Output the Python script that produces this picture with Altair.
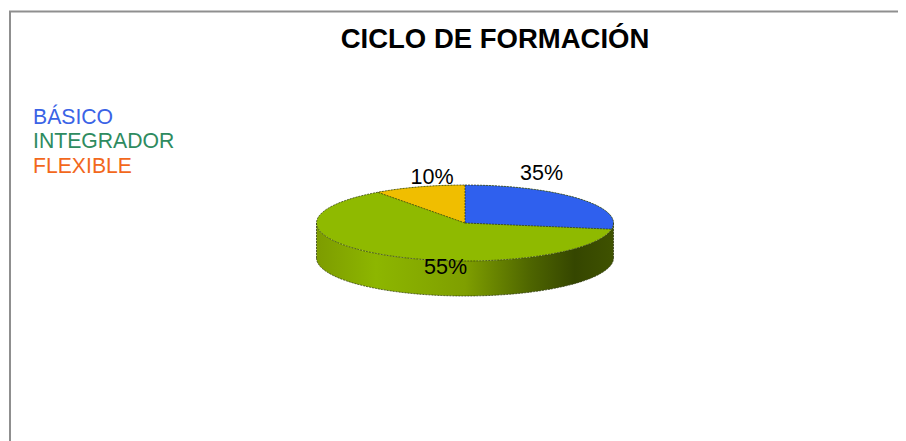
import math
import altair as alt
import pandas as pd

TITLE = "CICLO DE FORMACIÓN"
legend_names = ["BÁSICO", "INTEGRADOR", "FLEXIBLE"]
legend_colors = ["#3a63e6", "#2e8b60", "#f2681c"]
percent_labels = ["35%", "55%", "10%"]
# slice sizes as drawn in the picture (share of the turn, clockwise from 12 o'clock)
drawn_blue = 27.6
drawn_yellow = 10.0
slice_colors = {"blue": "#2f60ee", "green": "#8fba00", "yellow": "#f0be00"}

W, H = 890, 433
CX, CY, RX, RY, DEPTH = 457, 215, 148.5, 38.0, 35.0
xs = alt.Scale(domain=[-CX / RX, (W - CX) / RX], range=[0, W])
ys = alt.Scale(domain=[-(H - CY) / RY, CY / RY], range=[H, 0])
X = alt.X("x:Q", scale=xs, axis=None)
Y = alt.Y("y:Q", scale=ys, axis=None)
Y2 = alt.Y2("y2:Q")
D = DEPTH / RY


def ell(x):
    return math.sqrt(max(0.0, 1 - x * x))


def xgrid(a, b, n=180):
    """x positions between a and b, denser near the rim of the ellipse."""
    ta, tb = math.acos(a), math.acos(b)
    return [math.cos(ta + (tb - ta) * i / n) for i in range(n + 1)]


be = math.radians(drawn_blue * 3.6)
bx, by = math.sin(be), math.cos(be)
ye = math.radians(-drawn_yellow * 3.6)
yx, yy = math.sin(ye), math.cos(ye)

side = pd.DataFrame([{"x": x, "y": -ell(x), "y2": -ell(x) - D} for x in xgrid(-1, 1)])
top = pd.DataFrame([{"x": x, "y": ell(x), "y2": -ell(x)} for x in xgrid(-1, 1)])
blue_rows = []
for x in sorted(xgrid(0, 1) + [bx]):
    low = by * x / bx if x <= bx else -ell(x)
    blue_rows.append({"x": x, "y": ell(x), "y2": low})
blue = pd.DataFrame(blue_rows)
yellow = pd.DataFrame([{"x": x, "y": ell(x), "y2": yy * x / yx} for x in xgrid(yx, 0, 60)])

edges = []
def edge(name, pts):
    for i, (x, y) in enumerate(pts):
        edges.append({"g": name, "i": i, "x": x, "y": y})

edge("rim", [(math.sin(2 * math.pi * i / 360), math.cos(2 * math.pi * i / 360)) for i in range(361)])
edge("bottom", [(x, -ell(x) - D) for x in xgrid(-1, 1)])
edge("left", [(-1, 0), (-1, -D)])
edge("right", [(1, 0), (1, -D)])
edge("r1", [(0, 1), (0, 0)])
edge("r2", [(0, 0), (bx, by)])
edge("r3", [(0, 0), (yx, yy)])
edges = pd.DataFrame(edges)

frame_color = "#8f8f8f"
layers = [
    alt.Chart(pd.DataFrame({"a": [0]})).mark_rule(color=frame_color, strokeWidth=2).encode(
        x=alt.value(1), x2=alt.value(W), y=alt.value(3.5)),
    alt.Chart(pd.DataFrame({"a": [0]})).mark_rule(color=frame_color, strokeWidth=2).encode(
        x=alt.value(2), y=alt.value(3), y2=alt.value(H)),
    alt.Chart(side).mark_area(
        orient="vertical",
        color=alt.LinearGradient(
            gradient="linear", x1=0, x2=1, y1=0, y2=0,
            stops=[
                alt.GradientStop(color="#7d9c00", offset=0),
                alt.GradientStop(color="#8db600", offset=0.2),
                alt.GradientStop(color="#7f9f00", offset=0.5),
                alt.GradientStop(color="#4e6500", offset=0.72),
                alt.GradientStop(color="#354600", offset=0.87),
                alt.GradientStop(color="#3f5200", offset=1),
            ],
        ),
    ).encode(x=X, y=Y, y2=Y2),
    alt.Chart(top).mark_area(orient="vertical", color=slice_colors["green"]).encode(x=X, y=Y, y2=Y2),
    alt.Chart(blue).mark_area(orient="vertical", color=slice_colors["blue"]).encode(x=X, y=Y, y2=Y2),
    alt.Chart(yellow).mark_area(orient="vertical", color=slice_colors["yellow"]).encode(x=X, y=Y, y2=Y2),
    alt.Chart(edges).mark_line(color="#2f3a10", strokeWidth=1, strokeDash=[2, 1], opacity=0.75).encode(
        x=X, y=Y, detail="g:N", order="i:Q"),
]


def text(label, px, py, size, color="#000000", bold=False):
    return alt.Chart(pd.DataFrame({"t": [label]})).mark_text(
        font="Liberation Sans", fontSize=size, color=color,
        fontWeight="bold" if bold else "normal", align="center", baseline="middle",
    ).encode(text="t:N", x=alt.value(px), y=alt.value(py))


layers.append(text(TITLE, 487, 31.5, 27.5, bold=True))
for name, col, py in zip(legend_names, legend_colors, [110, 134, 158.5]):
    layers.append(
        alt.Chart(pd.DataFrame({"t": [name]})).mark_text(
            font="Liberation Sans", fontSize=21.2, color=col, align="left", baseline="middle",
        ).encode(text="t:N", x=alt.value(25), y=alt.value(py))
    )
for lab, px, py in zip(percent_labels, [533.5, 437.5, 424], [165.5, 259.5, 170]):
    layers.append(text(lab, px, py, 21.5))

chart = alt.layer(*layers).properties(
    width=W, height=H, padding=0, background="#ffffff",
    autosize=alt.AutoSizeParams(type="none"),
).configure_view(stroke=None)

chart.save("out.html", embed_options={"renderer": "svg", "actions": False})
